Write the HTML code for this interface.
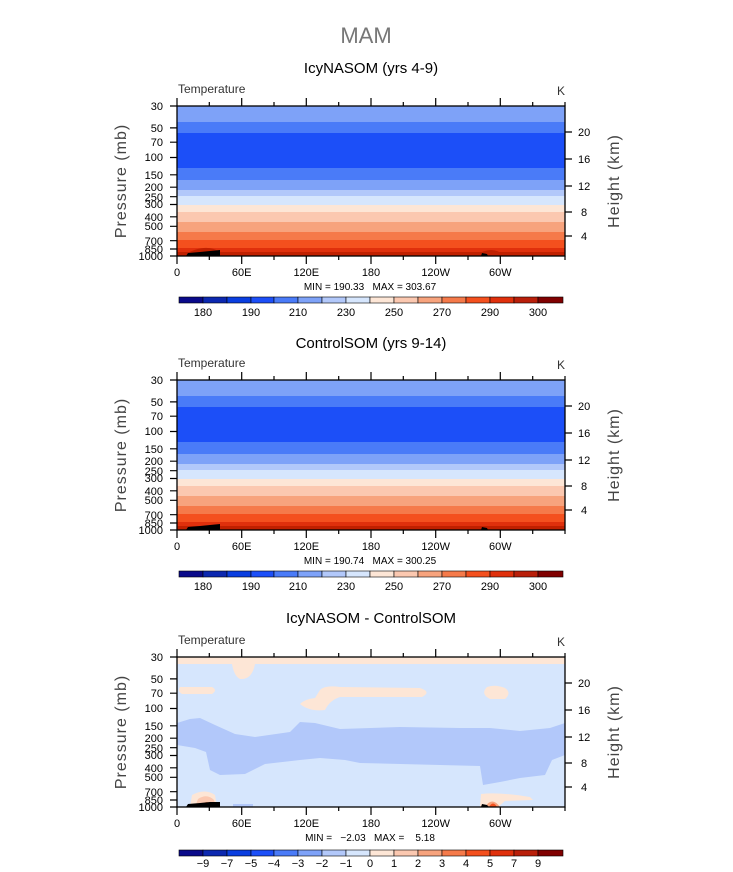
<!DOCTYPE html>
<html><head><meta charset="utf-8"><style>
html,body{margin:0;padding:0;background:#fff}
svg{display:block}
text{font-family:"Liberation Sans",sans-serif;fill:#000}
.mm{white-space:pre}
</style></head><body>
<svg width="733" height="872" viewBox="0 0 733 872" xmlns="http://www.w3.org/2000/svg">
<text x="366" y="43" font-size="22" text-anchor="middle" style="fill:#777">MAM</text>

<!-- PANEL 1 -->
<text x="371" y="73" font-size="15" text-anchor="middle">IcyNASOM (yrs 4-9)</text>
<g transform="translate(0,106)">
<rect x="177" y="0" width="388" height="16" fill="#7ea2f8"/>
<rect x="177" y="16" width="388" height="11" fill="#4a7bf8"/>
<rect x="177" y="27" width="388" height="35" fill="#1c4ff8"/>
<rect x="177" y="62" width="388" height="12" fill="#4a7bf8"/>
<rect x="177" y="74" width="388" height="10" fill="#7ea2f8"/>
<rect x="177" y="84" width="388" height="6" fill="#b2c8fa"/>
<rect x="177" y="90" width="388" height="9" fill="#d6e6fd"/>
<rect x="177" y="99" width="388" height="7" fill="#fde6d6"/>
<rect x="177" y="106" width="388" height="10" fill="#fbc8b0"/>
<rect x="177" y="116" width="388" height="10" fill="#f7a37d"/>
<rect x="177" y="126" width="388" height="8" fill="#f57a4a"/>
<rect x="177" y="134" width="388" height="8" fill="#f4501e"/>
<rect x="177" y="142" width="388" height="4" fill="#e0300c"/>
<rect x="177" y="146" width="388" height="4" fill="#c02000"/>
<path d="M182,150 Q205,136 220,146 L220,150Z" fill="#c02000"/>
<path d="M475,150 Q492,138 505,150Z" fill="#c02000"/>
<path d="M186,150 L188,147 L200,146 L210,145 L220,144 L220,150Z" fill="#000"/>
<path d="M481,150 L482,147 L487,148 L488,150Z" fill="#000"/>
</g>

<!-- PANEL 2 -->
<text x="371" y="348" font-size="15" text-anchor="middle">ControlSOM (yrs 9-14)</text>
<g transform="translate(0,380)">
<rect x="177" y="0" width="388" height="16" fill="#7ea2f8"/>
<rect x="177" y="16" width="388" height="11" fill="#4a7bf8"/>
<rect x="177" y="27" width="388" height="35" fill="#1c4ff8"/>
<rect x="177" y="62" width="388" height="12" fill="#4a7bf8"/>
<rect x="177" y="74" width="388" height="10" fill="#7ea2f8"/>
<rect x="177" y="84" width="388" height="6" fill="#b2c8fa"/>
<rect x="177" y="90" width="388" height="9" fill="#d6e6fd"/>
<rect x="177" y="99" width="388" height="7" fill="#fde6d6"/>
<rect x="177" y="106" width="388" height="10" fill="#fbc8b0"/>
<rect x="177" y="116" width="388" height="10" fill="#f7a37d"/>
<rect x="177" y="126" width="388" height="8" fill="#f57a4a"/>
<rect x="177" y="134" width="388" height="8" fill="#f4501e"/>
<rect x="177" y="142" width="388" height="4" fill="#e0300c"/>
<rect x="177" y="146" width="388" height="4" fill="#c02000"/>
<path d="M186,150 L188,147 L200,146 L210,145 L220,144 L220,150Z" fill="#000"/>
<path d="M481,150 L482,147 L487,148 L488,150Z" fill="#000"/>
</g>

<!-- PANEL 3 -->
<text x="371" y="623" font-size="15" text-anchor="middle">IcyNASOM - ControlSOM</text>
<g>
<rect x="177" y="657" width="388" height="150" fill="#d6e6fd"/>
<path d="M177,657 H565 V664 H255 Q252,680 240,679 Q234,676 232,664 H177Z" fill="#fde6d6"/>
<path d="M180,687 Q177,691 182,694 L212,694 Q218,690 212,687Z" fill="#fde6d6"/>
<path d="M300,704 Q305,699 315,698 L320,690 Q325,685 340,687 L420,688 Q432,692 422,697 L340,697 Q330,700 325,710 Q310,712 300,704Z" fill="#fde6d6"/>
<path d="M487,687 Q495,684 505,688 Q512,693 505,699 L490,699 Q480,694 487,687Z" fill="#fde6d6"/>
<path d="M177,723 L190,719 L200,718 L215,725 L235,734 L255,737 L290,732 L300,722 L315,723 L340,729 L400,727 L460,728 L490,728 L520,731 L550,728 L565,723 V755 L552,760 L545,775 L520,778 L500,782 L483,785 L480,766 L440,765 L360,763 L345,760 L320,758 L300,760 L265,764 L245,774 L220,775 L210,770 L206,752 L195,748 L177,745Z" fill="#b2c8fa"/>
<path d="M190,807 L192,795 Q205,788 215,795 L217,807Z" fill="#fde6d6"/>
<path d="M195,807 L198,799 Q207,793 214,800 L216,807Z" fill="#fbc8b0"/>
<path d="M200,807 Q207,797 213,807Z" fill="#f57a4a"/>
<path d="M480,807 L481,794 Q500,792 530,797 L533,800 L505,801 L498,807Z" fill="#fde6d6"/>
<path d="M485,807 Q492,796 500,807Z" fill="#f7a37d"/>
<path d="M489,807 Q493,800 497,807Z" fill="#f4501e"/>
<path d="M186,807 L188,804 L200,803 L210,802 L220,802 L220,807Z" fill="#000"/>
<path d="M481,807 L482,804 L487,805 L489,807Z" fill="#000"/>
<rect x="233" y="804" width="20" height="3" fill="#b2c8fa"/>
</g>

<!-- FRAMES -->
<g stroke="#000" fill="none" stroke-width="1.3">
<rect x="177" y="106" width="388" height="150"/>
<rect x="177" y="380" width="388" height="150"/>
<rect x="177" y="657" width="388" height="150"/>
</g>

<g transform="translate(0,106)">
<g stroke="#000" stroke-width="1.2">
<path d="M177,0v-8 M241.7,0v-8 M306.3,0v-8 M371,0v-8 M435.7,0v-8 M500.3,0v-8 M209.3,0v-4 M274,0v-4 M338.7,0v-4 M403.3,0v-4 M468,0v-4 M532.7,0v-4 M565,0v-4"/>
<path d="M177,150v8 M241.7,150v8 M306.3,150v8 M371,150v8 M435.7,150v8 M500.3,150v8 M209.3,150v4 M274,150v4 M338.7,150v4 M403.3,150v4 M468,150v4 M532.7,150v4 M565,150v4"/>
<path d="M177,0h-7 M177,21.9h-7 M177,36.2h-7 M177,51.5h-7 M177,68.8h-7 M177,81.2h-7 M177,90.7h-7 M177,98.5h-7 M177,110.8h-7 M177,120.3h-7 M177,134.7h-7 M177,143h-7 M177,150h-7"/>
<path d="M565,26h7 M565,53h7 M565,80h7 M565,106h7 M565,130h7"/>
</g>
<g font-size="11" text-anchor="end">
<text x="163" y="4">30</text><text x="163" y="26">50</text><text x="163" y="40">70</text><text x="163" y="55">100</text><text x="163" y="73">150</text><text x="163" y="85">200</text><text x="163" y="95">250</text><text x="163" y="102">300</text><text x="163" y="115">400</text><text x="163" y="124">500</text><text x="163" y="139">700</text><text x="163" y="147">850</text><text x="163" y="154">1000</text>
</g>
<g font-size="11">
<text x="578" y="30">20</text><text x="578" y="57">16</text><text x="578" y="84">12</text><text x="581" y="110">8</text><text x="581" y="134">4</text>
</g>
<g font-size="11" text-anchor="middle">
<text x="177" y="170">0</text><text x="241.7" y="170">60E</text><text x="306.3" y="170">120E</text><text x="371" y="170">180</text><text x="435.7" y="170">120W</text><text x="500.3" y="170">60W</text>
</g>
<text font-size="16" letter-spacing="1" text-anchor="middle" transform="translate(126,75) rotate(-90)" style="fill:#444">Pressure  (mb)</text>
<text font-size="16" letter-spacing="1" text-anchor="middle" transform="translate(619,75) rotate(-90)" style="fill:#444">Height  (km)</text>
<text x="178" y="-13" font-size="12" style="fill:#333">Temperature</text>
<text x="557" y="-11" font-size="12" style="fill:#333">K</text>
</g>

<g transform="translate(0,380)">
<g stroke="#000" stroke-width="1.2">
<path d="M177,0v-8 M241.7,0v-8 M306.3,0v-8 M371,0v-8 M435.7,0v-8 M500.3,0v-8 M209.3,0v-4 M274,0v-4 M338.7,0v-4 M403.3,0v-4 M468,0v-4 M532.7,0v-4 M565,0v-4"/>
<path d="M177,150v8 M241.7,150v8 M306.3,150v8 M371,150v8 M435.7,150v8 M500.3,150v8 M209.3,150v4 M274,150v4 M338.7,150v4 M403.3,150v4 M468,150v4 M532.7,150v4 M565,150v4"/>
<path d="M177,0h-7 M177,21.9h-7 M177,36.2h-7 M177,51.5h-7 M177,68.8h-7 M177,81.2h-7 M177,90.7h-7 M177,98.5h-7 M177,110.8h-7 M177,120.3h-7 M177,134.7h-7 M177,143h-7 M177,150h-7"/>
<path d="M565,26h7 M565,53h7 M565,80h7 M565,106h7 M565,130h7"/>
</g>
<g font-size="11" text-anchor="end">
<text x="163" y="4">30</text><text x="163" y="26">50</text><text x="163" y="40">70</text><text x="163" y="55">100</text><text x="163" y="73">150</text><text x="163" y="85">200</text><text x="163" y="95">250</text><text x="163" y="102">300</text><text x="163" y="115">400</text><text x="163" y="124">500</text><text x="163" y="139">700</text><text x="163" y="147">850</text><text x="163" y="154">1000</text>
</g>
<g font-size="11">
<text x="578" y="30">20</text><text x="578" y="57">16</text><text x="578" y="84">12</text><text x="581" y="110">8</text><text x="581" y="134">4</text>
</g>
<g font-size="11" text-anchor="middle">
<text x="177" y="170">0</text><text x="241.7" y="170">60E</text><text x="306.3" y="170">120E</text><text x="371" y="170">180</text><text x="435.7" y="170">120W</text><text x="500.3" y="170">60W</text>
</g>
<text font-size="16" letter-spacing="1" text-anchor="middle" transform="translate(126,75) rotate(-90)" style="fill:#444">Pressure  (mb)</text>
<text font-size="16" letter-spacing="1" text-anchor="middle" transform="translate(619,75) rotate(-90)" style="fill:#444">Height  (km)</text>
<text x="178" y="-13" font-size="12" style="fill:#333">Temperature</text>
<text x="557" y="-11" font-size="12" style="fill:#333">K</text>
</g>

<g transform="translate(0,657)">
<g stroke="#000" stroke-width="1.2">
<path d="M177,0v-8 M241.7,0v-8 M306.3,0v-8 M371,0v-8 M435.7,0v-8 M500.3,0v-8 M209.3,0v-4 M274,0v-4 M338.7,0v-4 M403.3,0v-4 M468,0v-4 M532.7,0v-4 M565,0v-4"/>
<path d="M177,150v8 M241.7,150v8 M306.3,150v8 M371,150v8 M435.7,150v8 M500.3,150v8 M209.3,150v4 M274,150v4 M338.7,150v4 M403.3,150v4 M468,150v4 M532.7,150v4 M565,150v4"/>
<path d="M177,0h-7 M177,21.9h-7 M177,36.2h-7 M177,51.5h-7 M177,68.8h-7 M177,81.2h-7 M177,90.7h-7 M177,98.5h-7 M177,110.8h-7 M177,120.3h-7 M177,134.7h-7 M177,143h-7 M177,150h-7"/>
<path d="M565,26h7 M565,53h7 M565,80h7 M565,106h7 M565,130h7"/>
</g>
<g font-size="11" text-anchor="end">
<text x="163" y="4">30</text><text x="163" y="26">50</text><text x="163" y="40">70</text><text x="163" y="55">100</text><text x="163" y="73">150</text><text x="163" y="85">200</text><text x="163" y="95">250</text><text x="163" y="102">300</text><text x="163" y="115">400</text><text x="163" y="124">500</text><text x="163" y="139">700</text><text x="163" y="147">850</text><text x="163" y="154">1000</text>
</g>
<g font-size="11">
<text x="578" y="30">20</text><text x="578" y="57">16</text><text x="578" y="84">12</text><text x="581" y="110">8</text><text x="581" y="134">4</text>
</g>
<g font-size="11" text-anchor="middle">
<text x="177" y="170">0</text><text x="241.7" y="170">60E</text><text x="306.3" y="170">120E</text><text x="371" y="170">180</text><text x="435.7" y="170">120W</text><text x="500.3" y="170">60W</text>
</g>
<text font-size="16" letter-spacing="1" text-anchor="middle" transform="translate(126,75) rotate(-90)" style="fill:#444">Pressure  (mb)</text>
<text font-size="16" letter-spacing="1" text-anchor="middle" transform="translate(619,75) rotate(-90)" style="fill:#444">Height  (km)</text>
<text x="178" y="-13" font-size="12" style="fill:#333">Temperature</text>
<text x="557" y="-11" font-size="12" style="fill:#333">K</text>
</g>

<!-- MIN/MAX -->
<text class="mm" x="370" y="290" font-size="10" text-anchor="middle">MIN = 190.33   MAX = 303.67</text>
<text class="mm" x="370" y="564" font-size="10" text-anchor="middle">MIN = 190.74   MAX = 300.25</text>
<text class="mm" x="370" y="841" font-size="10" text-anchor="middle">MIN =   −2.03   MAX =    5.18</text>

<!-- COLORBARS -->
<g stroke="#000" stroke-width="0.6">
<rect x="179" y="297" width="24" height="6" fill="#0a0a8a"/>
<rect x="203" y="297" width="24" height="6" fill="#0c28b0"/>
<rect x="227" y="297" width="24" height="6" fill="#0a3ee0"/>
<rect x="251" y="297" width="23" height="6" fill="#1c4ff8"/>
<rect x="274" y="297" width="24" height="6" fill="#4a7bf8"/>
<rect x="298" y="297" width="24" height="6" fill="#7ea2f8"/>
<rect x="322" y="297" width="24" height="6" fill="#b2c8fa"/>
<rect x="346" y="297" width="24" height="6" fill="#d6e6fd"/>
<rect x="370" y="297" width="24" height="6" fill="#fde6d6"/>
<rect x="394" y="297" width="24" height="6" fill="#fbc8b0"/>
<rect x="418" y="297" width="24" height="6" fill="#f7a37d"/>
<rect x="442" y="297" width="24" height="6" fill="#f57a4a"/>
<rect x="466" y="297" width="24" height="6" fill="#f4501e"/>
<rect x="490" y="297" width="24" height="6" fill="#e0300c"/>
<rect x="514" y="297" width="24" height="6" fill="#b91f0a"/>
<rect x="538" y="297" width="25" height="6" fill="#800000"/>
</g>
<g font-size="11" text-anchor="middle">
<text x="203" y="316">180</text><text x="251" y="316">190</text><text x="298" y="316">210</text><text x="346" y="316">230</text><text x="394" y="316">250</text><text x="442" y="316">270</text><text x="490" y="316">290</text><text x="538" y="316">300</text>
</g>
<g stroke="#000" stroke-width="0.6" transform="translate(0,274)">
<rect x="179" y="297" width="24" height="6" fill="#0a0a8a"/>
<rect x="203" y="297" width="24" height="6" fill="#0c28b0"/>
<rect x="227" y="297" width="24" height="6" fill="#0a3ee0"/>
<rect x="251" y="297" width="23" height="6" fill="#1c4ff8"/>
<rect x="274" y="297" width="24" height="6" fill="#4a7bf8"/>
<rect x="298" y="297" width="24" height="6" fill="#7ea2f8"/>
<rect x="322" y="297" width="24" height="6" fill="#b2c8fa"/>
<rect x="346" y="297" width="24" height="6" fill="#d6e6fd"/>
<rect x="370" y="297" width="24" height="6" fill="#fde6d6"/>
<rect x="394" y="297" width="24" height="6" fill="#fbc8b0"/>
<rect x="418" y="297" width="24" height="6" fill="#f7a37d"/>
<rect x="442" y="297" width="24" height="6" fill="#f57a4a"/>
<rect x="466" y="297" width="24" height="6" fill="#f4501e"/>
<rect x="490" y="297" width="24" height="6" fill="#e0300c"/>
<rect x="514" y="297" width="24" height="6" fill="#b91f0a"/>
<rect x="538" y="297" width="25" height="6" fill="#800000"/>
</g>
<g font-size="11" text-anchor="middle" transform="translate(0,274)">
<text x="203" y="316">180</text><text x="251" y="316">190</text><text x="298" y="316">210</text><text x="346" y="316">230</text><text x="394" y="316">250</text><text x="442" y="316">270</text><text x="490" y="316">290</text><text x="538" y="316">300</text>
</g>
<g stroke="#000" stroke-width="0.6" transform="translate(0,553)">
<rect x="179" y="297" width="24" height="6" fill="#0a0a8a"/>
<rect x="203" y="297" width="24" height="6" fill="#0c28b0"/>
<rect x="227" y="297" width="24" height="6" fill="#0a3ee0"/>
<rect x="251" y="297" width="23" height="6" fill="#1c4ff8"/>
<rect x="274" y="297" width="24" height="6" fill="#4a7bf8"/>
<rect x="298" y="297" width="24" height="6" fill="#7ea2f8"/>
<rect x="322" y="297" width="24" height="6" fill="#b2c8fa"/>
<rect x="346" y="297" width="24" height="6" fill="#d6e6fd"/>
<rect x="370" y="297" width="24" height="6" fill="#fde6d6"/>
<rect x="394" y="297" width="24" height="6" fill="#fbc8b0"/>
<rect x="418" y="297" width="24" height="6" fill="#f7a37d"/>
<rect x="442" y="297" width="24" height="6" fill="#f57a4a"/>
<rect x="466" y="297" width="24" height="6" fill="#f4501e"/>
<rect x="490" y="297" width="24" height="6" fill="#e0300c"/>
<rect x="514" y="297" width="24" height="6" fill="#b91f0a"/>
<rect x="538" y="297" width="25" height="6" fill="#800000"/>
</g>
<g font-size="11" text-anchor="middle">
<text x="203" y="867">−9</text><text x="227" y="867">−7</text><text x="251" y="867">−5</text><text x="274" y="867">−4</text><text x="298" y="867">−3</text><text x="322" y="867">−2</text><text x="346" y="867">−1</text><text x="370" y="867">0</text><text x="394" y="867">1</text><text x="418" y="867">2</text><text x="442" y="867">3</text><text x="466" y="867">4</text><text x="490" y="867">5</text><text x="514" y="867">7</text><text x="538" y="867">9</text>
</g>
</svg>
</body></html>
